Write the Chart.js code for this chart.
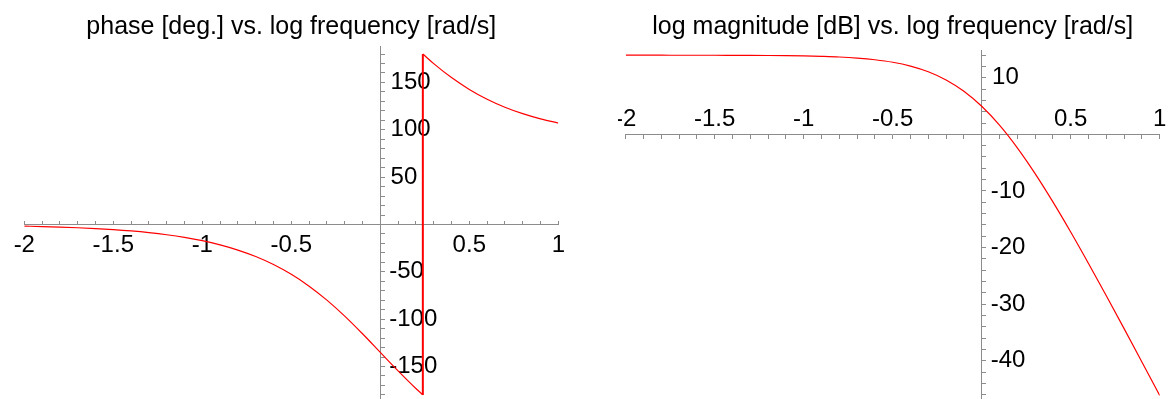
<!DOCTYPE html>
<html>
<head>
<meta charset="utf-8">
<script src="https://cdn.jsdelivr.net/npm/chart.js@4"></script>
<style>
  html, body { margin: 0; padding: 0; background: #fff; overflow: hidden; }
  #wrap { position: relative; width: 1168px; height: 399px; }
  canvas { position: absolute; top: 0; }
  #phase { left: 0; }
  #mag { left: 618px; }
</style>
</head>
<body>
<div id="wrap">
  <canvas id="phase" width="584" height="399"></canvas>
  <canvas id="mag" width="550" height="399"></canvas>
</div>
<script>
// values (log10 of frequency in rad/s)
const logFreq = [-2, -1.9, -1.8, -1.7, -1.6, -1.5, -1.4, -1.3, -1.2, -1.1, -1,
  -0.9, -0.8, -0.7, -0.6, -0.5, -0.4, -0.3, -0.2, -0.1, 0,
  0.1, 0.2, 0.3, 0.4, 0.5, 0.6, 0.7, 0.8, 0.9, 1];
const phaseDeg = [-1.72, -2.16, -2.72, -3.43, -4.32, -5.43, -6.84, -8.61, -10.83, -13.63, -17.13,
  -21.53, -27.02, -33.85, -42.3, -52.64, -65.12, -79.86, -96.75, -115.39, -135,
  -154.61, -173.25, 169.86, 155.12, 142.64, 132.3, 123.85, 117.02, 111.53, 107.13];
const magDb = [13.98, 13.98, 13.98, 13.97, 13.97, 13.97, 13.96, 13.95, 13.93, 13.9, 13.85,
  13.77, 13.66, 13.47, 13.18, 12.74, 12.06, 11.06, 9.61, 7.61, 4.95,
  1.61, -2.39, -6.94, -11.94, -17.26, -22.82, -28.53, -34.34, -40.23, -46.15];
// phase wraps from -180 to +180 here
const jumpLogFreq = 0.239;
const jumpPhase = [-180, 180];

const xTickLabels = [-2, -1.5, -1, -0.5, 0.5, 1];
const phaseTickLabels = [-150, -100, -50, 50, 100, 150];
const magTickLabels = [-40, -30, -20, -10, 10];

const RED = '#ff0000';
const GRAY = '#8c8c8c';
const FONT = "'Liberation Sans', Arial, sans-serif";
const TICK_SIZE = 24;
const tickFont = { family: FONT, size: TICK_SIZE };

// chart.js right-aligns labels of a y axis placed at {x: ...}; pad with spaces so they line up on the left
const measure = document.createElement('canvas').getContext('2d');
measure.font = TICK_SIZE + 'px ' + FONT;
function padLabels(values) {
  const texts = values.map(String);
  const widest = Math.max(...texts.map(t => measure.measureText(t).width));
  const space = measure.measureText(' ').width;
  const out = {};
  texts.forEach((t, i) => {
    const n = Math.round((widest - measure.measureText(t).width) / space);
    out[values[i]] = t + ' '.repeat(n);
  });
  return out;
}

function stepTicks(from, to, step) {
  const ticks = [];
  const n = Math.round((to - from) / step);
  for (let i = 0; i <= n; i++) ticks.push({ value: +(from + i * step).toFixed(4) });
  return ticks;
}

function labelFrom(list, lookup) {
  return function (value) {
    const hit = list.find(t => Math.abs(t - value) < 1e-6);
    if (hit === undefined) return '';
    return lookup ? lookup[hit] : String(hit);
  };
}

function noPadding(scale) {
  scale.paddingLeft = scale.paddingRight = scale.paddingTop = scale.paddingBottom = 0;
}

function lineSet(points, smooth, width) {
  return {
    data: points,
    borderColor: RED,
    borderWidth: width || 1.2,
    pointRadius: 0,
    fill: false,
    tension: 0,
    cubicInterpolationMode: smooth ? 'monotone' : 'default'
  };
}

function xAxis(tickLength, padding) {
  return {
    type: 'linear',
    min: -2,
    max: 1,
    position: { y: 0 },
    afterBuildTicks: s => { s.ticks = stepTicks(-2, 1, 0.1); },
    afterFit: noPadding,
    grid: { drawOnChartArea: false, drawTicks: true, tickLength: tickLength, color: GRAY },
    border: { display: true, color: GRAY, width: 1 },
    ticks: {
      autoSkip: false, maxRotation: 0, minRotation: 0,
      padding: padding, color: '#000', font: tickFont,
      callback: labelFrom(xTickLabels)
    }
  };
}

// the axis line with its tick marks, no labels
function yAxis(min, max, step) {
  return {
    type: 'linear',
    min: min,
    max: max,
    position: { x: 0 },
    afterBuildTicks: s => { s.ticks = stepTicks(Math.ceil(min / step) * step, Math.floor(max / step) * step, step); },
    afterFit: noPadding,
    grid: { drawOnChartArea: false, drawTicks: true, tickLength: -5, color: GRAY },
    border: { display: true, color: GRAY, width: 1 },
    ticks: { display: false, autoSkip: false }
  };
}

// a second y scale, same range, that only carries the labels just right of the axis
function yLabels(min, max, labels, at) {
  return {
    type: 'linear',
    min: min,
    max: max,
    position: { x: at },
    afterBuildTicks: s => { s.ticks = labels.map(v => ({ value: v })); },
    afterFit: noPadding,
    grid: { display: false, drawTicks: false },
    border: { display: false },
    ticks: {
      autoSkip: false, padding: 0, color: '#000', font: tickFont,
      callback: labelFrom(labels, padLabels(labels))
    }
  };
}

function titleOpts(text, bottom) {
  return {
    display: true,
    text: text,
    color: '#000',
    font: { family: FONT, size: 25, weight: 'normal' },
    padding: { top: 12, bottom: bottom }
  };
}

// phase split at the wrap so the smooth parts stay monotone
const phaseBefore = [];
const phaseAfter = [];
logFreq.forEach((x, i) => {
  if (x < jumpLogFreq) phaseBefore.push({ x: x, y: phaseDeg[i] });
  else phaseAfter.push({ x: x, y: phaseDeg[i] });
});
phaseBefore.push({ x: jumpLogFreq, y: jumpPhase[0] });
phaseAfter.unshift({ x: jumpLogFreq, y: jumpPhase[1] });
const phaseJump = jumpPhase.map(p => ({ x: jumpLogFreq, y: p }));

new Chart(document.getElementById('phase'), {
  type: 'line',
  data: {
    datasets: [lineSet(phaseBefore, true), lineSet(phaseJump, false, 2), lineSet(phaseAfter, true)]
  },
  options: {
    responsive: false,
    animation: false,
    events: [],
    layout: { padding: { left: 24.3, right: 25.7, top: 0, bottom: 0 } },
    plugins: {
      legend: { display: false },
      tooltip: { enabled: false },
      title: titleOpts('phase [deg.] vs. log frequency [rad/s]', 4)
    },
    scales: {
      x: xAxis(-4, 10.6),
      y: yAxis(-184.3, 188.5, 10),
      yLab: yLabels(-184.3, 188.5, phaseTickLabels, 0.32)
    }
  }
});

new Chart(document.getElementById('mag'), {
  type: 'line',
  data: {
    datasets: [lineSet(logFreq.map((x, i) => ({ x: x, y: magDb[i] })), true)]
  },
  options: {
    responsive: false,
    animation: false,
    events: [],
    layout: { padding: { left: 7.7, right: 8.3, top: 0, bottom: 0 } },
    plugins: {
      legend: { display: false },
      tooltip: { enabled: false },
      title: titleOpts('log magnitude [dB] vs. log frequency [rad/s]', 8)
    },
    scales: {
      x: xAxis(4, -33.4),
      y: yAxis(-46.77, 14.9, 2),
      yLab: yLabels(-46.77, 14.9, magTickLabels, 0.2455)
    }
  }
});
</script>
</body>
</html>
